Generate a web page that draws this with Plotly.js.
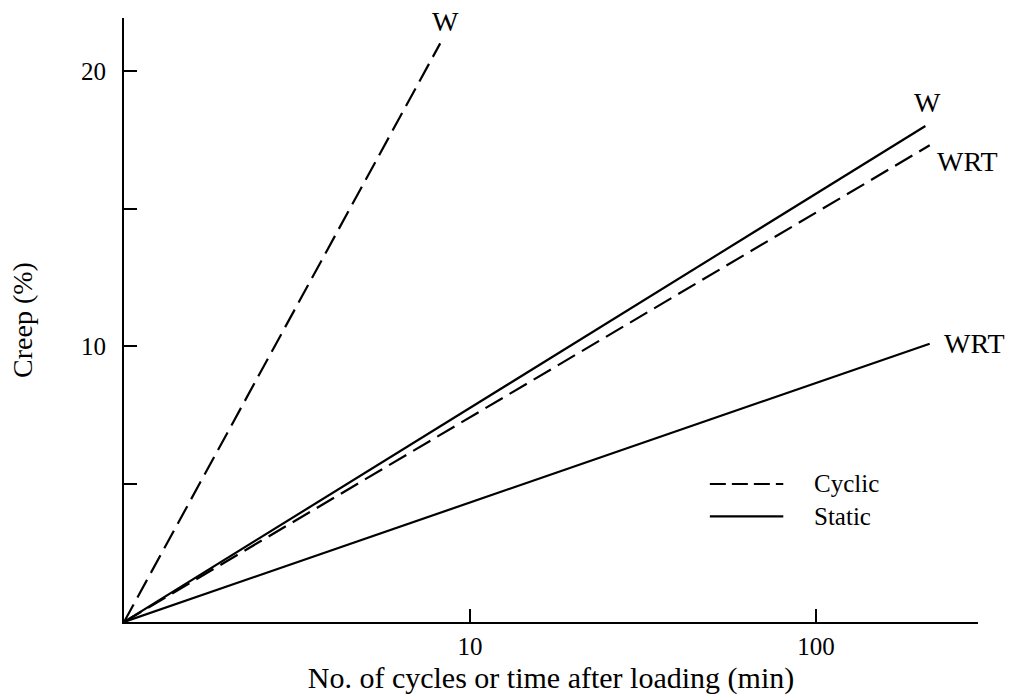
<!DOCTYPE html>
<html>
<head>
<meta charset="utf-8">
<script src="https://cdn.plot.ly/plotly-3.0.1.min.js"></script>
<style>html,body{margin:0;padding:0;background:#fff;}#chart{width:1010px;height:696px;}</style>
</head>
<body>
<div id="chart"></div>
<script>
// Data (x: cycles or minutes, log scale; y: creep %)
const seriesNames = ["W cyclic", "WRT cyclic", "W static", "WRT static"];
const seriesLabels = ["W", "WRT", "W", "WRT"];
const seriesType = ["Cyclic", "Cyclic", "Static", "Static"];
const xStart = [1, 1, 1, 1];
const yStart = [0, 0, 0, 0];
const xEnd = [8.2, 213, 207, 213];
const yEnd = [21.0, 17.3, 18.0, 10.1];

const xTickVals = [10, 100];
const xTickText = ["10", "100"];
const yTickVals = [0, 5, 10, 15, 20];
const yTickText = ["", "", "10", "", "20"];

const font = "Liberation Serif, Times New Roman, serif";

const traces = seriesNames.map((n, i) => ({
  x: [xStart[i], xEnd[i]],
  y: [yStart[i], yEnd[i]],
  mode: "lines",
  name: n,
  showlegend: false,
  line: {color: "#000", width: 2.2, dash: seriesType[i] === "Cyclic" ? "20px,8px" : "solid"}
}));

// label placement (pixels) relative to each line's end point
const labelAnchor = ["center", "left", "center", "left"];
const labelDx = [5, 5, 2, 12];
const labelDy = [-22, 16, -24, 0];

const annotations = seriesLabels.map((t, i) => ({
  x: Math.log10(xEnd[i]), y: yEnd[i], xref: "x", yref: "y",
  text: t, showarrow: false, xanchor: labelAnchor[i], yanchor: "middle",
  xshift: labelDx[i], yshift: -labelDy[i],
  font: {family: font, size: 28, color: "#000"}
}));

// legend (cyclic / static) drawn in paper coords
const legendItems = ["Cyclic", "Static"];
const legendDash = ["16px,6px", "solid"];
const legY = [0.2285, 0.175];
legendItems.forEach((t, i) => {
  annotations.push({
    x: 0.806, y: legY[i], xref: "paper", yref: "paper", text: t, showarrow: false,
    xanchor: "left", yanchor: "middle", font: {family: font, size: 25, color: "#000"}
  });
});
const shapes = legendItems.map((t, i) => ({
  type: "line", xref: "paper", yref: "paper",
  x0: 0.686, x1: 0.772, y0: legY[i], y1: legY[i],
  line: {color: "#000", width: 2.2, dash: legendDash[i]}
}));

const layout = {
  width: 1010, height: 696,
  margin: {l: 124, r: 32, t: 18, b: 74},
  paper_bgcolor: "#fff", plot_bgcolor: "#fff",
  font: {family: font, size: 25, color: "#000"},
  showlegend: false,
  xaxis: {
    type: "log", range: [0, 2.468],
    showgrid: false, zeroline: false,
    showline: true, linecolor: "#000", linewidth: 2,
    ticks: "inside", ticklen: 13, tickwidth: 2, tickcolor: "#000",
    tickvals: xTickVals, ticktext: xTickText,
    ticklabelstandoff: 1,
    tickfont: {family: font, size: 25, color: "#000"},
    title: {text: "No. of cycles or time after loading (min)", standoff: 8,
            font: {family: font, size: 30, color: "#000"}}
  },
  yaxis: {
    range: [0, 21.92],
    showgrid: false, zeroline: false,
    showline: true, linecolor: "#000", linewidth: 2,
    ticks: "inside", ticklen: 13, tickwidth: 2, tickcolor: "#000",
    tickvals: yTickVals, ticktext: yTickText,
    ticklabelstandoff: 11,
    tickfont: {family: font, size: 25, color: "#000"},
    title: {text: "Creep (%)", standoff: 40,
            font: {family: font, size: 28, color: "#000"}}
  },
  annotations: annotations,
  shapes: shapes
};

Plotly.newPlot("chart", traces, layout, {displayModeBar: false, staticPlot: true});
</script>
</body>
</html>
